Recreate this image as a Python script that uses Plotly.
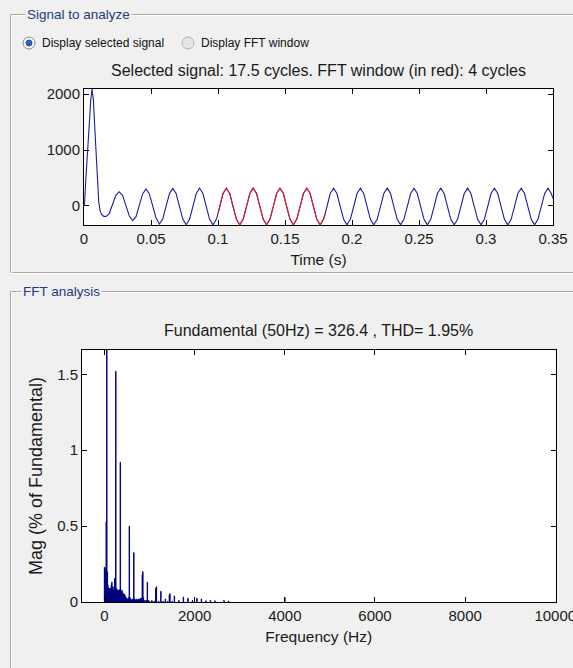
import plotly.graph_objects as go

W, H = 573, 668
BG = "#f0f0f0"


def px(x):
    return x / W


def py(y):
    return 1 - y / H


# ---------------- Signal to analyze (time domain) ----------------
time_s = [
    0.0, 0.0005, 0.001, 0.002, 0.003, 0.004, 0.005, 0.006,
    0.007, 0.008, 0.009, 0.010, 0.011, 0.012, 0.013, 0.0145,
    0.01625, 0.01875, 0.02125, 0.02375, 0.02625, 0.02875, 0.03125, 0.03375,
    0.03625, 0.03875, 0.04125, 0.04375, 0.04625, 0.04875, 0.05125, 0.05375,
    0.05625, 0.05875, 0.06125, 0.06375, 0.06625, 0.06875, 0.07125, 0.07375,
    0.07625, 0.07875, 0.08125, 0.08375, 0.08625, 0.08875, 0.09125, 0.09375,
    0.09625, 0.09875, 0.1, 0.10125, 0.10375, 0.10625, 0.10875, 0.11125, 0.11375,
    0.11625, 0.11875, 0.12125, 0.12375, 0.12625, 0.12875, 0.13125, 0.13375,
    0.13625, 0.13875, 0.14125, 0.14375, 0.14625, 0.14875, 0.15125, 0.15375,
    0.15625, 0.15875, 0.16125, 0.16375, 0.16625, 0.16875, 0.17125, 0.17375,
    0.17625, 0.17875, 0.18, 0.18125, 0.18375, 0.18625, 0.18875, 0.19125, 0.19375,
    0.19625, 0.19875, 0.20125, 0.20375, 0.20625, 0.20875, 0.21125, 0.21375,
    0.21625, 0.21875, 0.22125, 0.22375, 0.22625, 0.22875, 0.23125, 0.23375,
    0.23625, 0.23875, 0.24125, 0.24375, 0.24625, 0.24875, 0.25125, 0.25375,
    0.25625, 0.25875, 0.26125, 0.26375, 0.26625, 0.26875, 0.27125, 0.27375,
    0.27625, 0.27875, 0.28125, 0.28375, 0.28625, 0.28875, 0.29125, 0.29375,
    0.29625, 0.29875, 0.30125, 0.30375, 0.30625, 0.30875, 0.31125, 0.31375,
    0.31625, 0.31875, 0.32125, 0.32375, 0.32625, 0.32875, 0.33125, 0.33375,
    0.33625, 0.33875, 0.34125, 0.34375, 0.34625, 0.34875, 0.35,
]
signal_v = [
    0, 80, 330, 750, 1150, 1530, 1880, 2090,
    1900, 1420, 900, 420, 70, -80, -145, -182,
    -190, -140, 25, 190, 255, 190, 10, -175,
    -262, -195, 10, 215, 303, 215, 0, -215,
    -322, -232, -8, 220, 315, 222, -10, -235,
    -335, -238, -10, 222, 318, 222, -10, -238,
    -338, -240, -135, -10, 222, 318, 222, -10, -240,
    -338, -240, -10, 222, 319, 222, -10, -240,
    -337, -240, -10, 222, 318, 222, -10, -240,
    -338, -240, -10, 222, 318, 222, -10, -240,
    -338, -240, -135, -10, 222, 318, 222, -10, -240,
    -338, -240, -10, 222, 318, 222, -10, -240,
    -337, -240, -10, 222, 319, 222, -10, -240,
    -338, -240, -10, 222, 318, 222, -10, -240,
    -338, -240, -10, 222, 318, 222, -10, -240,
    -338, -240, -10, 222, 319, 222, -10, -240,
    -337, -240, -10, 222, 318, 222, -10, -240,
    -338, -240, -10, 222, 318, 222, -10, -240,
    -338, -240, -10, 222, 318, 222, 130,
]
assert len(time_s) == len(signal_v), (len(time_s), len(signal_v))

fft_window_start = 0.1
fft_window_end = 0.18
win_t = [t for t in time_s if fft_window_start <= t <= fft_window_end]
win_v = [v for t, v in zip(time_s, signal_v) if fft_window_start <= t <= fft_window_end]

time_ticks = [0, 0.05, 0.1, 0.15, 0.2, 0.25, 0.3, 0.35]
time_tick_text = ["0", "0.05", "0.1", "0.15", "0.2", "0.25", "0.3", "0.35"]
signal_ticks = [0, 1000, 2000]

# ---------------- FFT analysis (spectrum) ----------------
freq_hz = [
    0, 12.5, 25, 37.5, 50, 62.5, 75, 87.5, 100, 112.5,
    125, 137.5, 150, 162.5, 175, 187.5, 200, 212.5, 225, 237.5,
    250, 262.5, 275, 287.5, 300, 312.5, 325, 337.5, 350, 362.5,
    375, 387.5, 400, 412.5, 425, 437.5, 450, 462.5, 475, 487.5,
    500, 512.5, 525, 537.5, 550, 562.5, 575, 587.5, 600, 612.5,
    625, 637.5, 650, 662.5, 675, 687.5, 700, 712.5, 725, 737.5,
    750, 762.5, 775, 787.5, 800, 812.5, 825, 837.5, 850, 862.5,
    875, 900, 925, 950, 975, 1000, 1050, 1100, 1137.5, 1150,
    1200, 1250, 1300, 1350, 1400, 1437.5, 1450, 1500, 1550, 1650,
    1750, 1850, 1950, 2050, 2150, 2250, 2350, 2450, 2650, 2750,
    4000,
]
mag_pct = [
    0.23, 0.22, 0.20, 0.53, 100, 0.20, 0.11, 0.09, 0.08, 0.09,
    0.07, 0.09, 0.11, 0.13, 0.10, 0.08, 0.07, 0.10, 0.155, 0.10,
    1.52, 0.09, 0.08, 0.07, 0.08, 0.07, 0.08, 0.07, 0.92, 0.08,
    0.065, 0.075, 0.06, 0.055, 0.045, 0.05, 0.05, 0.035, 0.03, 0.025,
    0.02, 0.02, 0.02, 0.03, 0.50, 0.03, 0.02, 0.015, 0.01, 0.015,
    0.02, 0.02, 0.325, 0.02, 0.01, 0.01, 0.02, 0.01, 0.01, 0.015,
    0.02, 0.015, 0.015, 0.02, 0.025, 0.02, 0.025, 0.18, 0.20, 0.03,
    0.01, 0.01, 0.01, 0.13, 0.01, 0.005, 0.01, 0.005, 0.09, 0.10,
    0.005, 0.07, 0.005, 0.02, 0.005, 0.045, 0.055, 0.005, 0.04, 0.01,
    0.033, 0.025, 0.01, 0.025, 0.02, 0.008, 0.012, 0.008, 0.01, 0.006,
    0.03,
]
assert len(freq_hz) == len(mag_pct), (len(freq_hz), len(mag_pct))

freq_ticks = [0, 2000, 4000, 6000, 8000, 10000]
freq_tick_text = ["0", "2000", "4000", "6000", "8000", "10000"]
mag_ticks = [0, 0.5, 1, 1.5]
mag_tick_text = ["0", "0.5", "1", "1.5"]

title_signal = "Selected signal: 17.5 cycles. FFT window (in red): 4 cycles"
title_fft = "Fundamental (50Hz) = 326.4 , THD= 1.95%"

FONT = "Liberation Sans"
TICK_FONT = dict(family=FONT, size=15, color="#1a1a1a")
LABEL_FONT = dict(family=FONT, size=15.5, color="#1a1a1a")
YLABEL_FONT = dict(family=FONT, size=18, color="#1a1a1a")
TITLE_FONT = dict(family=FONT, size=16, color="#1a1a1a")

fig = go.Figure()
fig.add_trace(go.Scatter(x=time_s, y=signal_v, mode="lines",
                         line=dict(color="#1c1ca0", width=1.1),
                         xaxis="x", yaxis="y", showlegend=False))
fig.add_trace(go.Scatter(x=win_t, y=win_v, mode="lines",
                         line=dict(color="#e02222", width=1.1),
                         xaxis="x", yaxis="y", showlegend=False))
fig.add_trace(go.Bar(x=freq_hz, y=mag_pct, width=10,
                     marker=dict(color="#000080", line=dict(color="#000080", width=0.9)),
                     xaxis="x2", yaxis="y2", showlegend=False))

axis_common = dict(showline=True, linecolor="black", linewidth=1, mirror="ticks",
                   ticks="inside", ticklen=5, tickcolor="black", tickwidth=1,
                   showgrid=False, zeroline=False, tickfont=TICK_FONT, automargin=False,
                   ticklabeloverflow="allow")

fig.update_layout(
    width=W, height=H,
    margin=dict(l=0, r=0, t=0, b=0, pad=0, autoexpand=False),
    paper_bgcolor=BG, plot_bgcolor="white",
    showlegend=False,
    xaxis=dict(domain=[px(84), px(553)], range=[0, 0.35], tickmode="array",
               tickvals=time_ticks, ticktext=time_tick_text,
               title=dict(text="Time (s)", font=LABEL_FONT, standoff=8),
               anchor="y", **axis_common),
    yaxis=dict(domain=[py(225), py(89)], range=[-340, 2090], tickmode="array",
               tickvals=signal_ticks, ticktext=[str(v) for v in signal_ticks],
               anchor="x", **axis_common),
    xaxis2=dict(domain=[px(82), px(555.5)], range=[-500, 10005], tickmode="array",
                tickvals=freq_ticks, ticktext=freq_tick_text,
                title=dict(text="Frequency (Hz)", font=LABEL_FONT, standoff=8),
                anchor="y2", **axis_common),
    yaxis2=dict(domain=[py(602), py(350)], range=[0, 1.66], tickmode="array",
                tickvals=mag_ticks, ticktext=mag_tick_text,
                title=dict(text="Mag (% of Fundamental)", font=YLABEL_FONT, standoff=9),
                anchor="x2", **axis_common),
)

shapes = []


def rect(x0, y0, x1, y1, color):
    return dict(type="rect", xref="paper", yref="paper",
                x0=px(x0), x1=px(x1), y0=py(y1), y1=py(y0),
                line=dict(color=color, width=1), fillcolor="rgba(0,0,0,0)", layer="below")


# group boxes (etched look: grey line + white highlight)
shapes.append(rect(10.5, 14.5, 600, 272.5, "#a8a8a8"))
shapes.append(rect(11.5, 15.5, 600, 273.5, "#ffffff"))
shapes.append(rect(10.5, 291.5, 600, 700, "#a8a8a8"))
shapes.append(rect(11.5, 292.5, 600, 700, "#ffffff"))


def circle(cx, cy, r, fill, line_color):
    return dict(type="circle", xref="paper", yref="paper",
                x0=px(cx - r), x1=px(cx + r), y0=py(cy + r), y1=py(cy - r),
                fillcolor=fill, line=dict(color=line_color, width=1), layer="above")


# radio buttons
shapes.append(circle(29, 43, 6, "#f6f6f6", "#8a8a8a"))
shapes.append(circle(29, 43, 3, "#2b63c4", "#1f4f9f"))
shapes.append(circle(188, 43, 6, "#e6e6e6", "#b0b0b0"))

fig.update_layout(shapes=shapes)

GROUP_FONT = dict(family=FONT, size=13.5, color="#1e3a7a")
UI_FONT = dict(family=FONT, size=12, color="#111111")

annotations = [
    dict(text="Signal to analyze", x=px(25), y=py(14.5), xanchor="left", yanchor="middle",
         showarrow=False, font=GROUP_FONT, bgcolor=BG, borderpad=1),
    dict(text="FFT analysis", x=px(21), y=py(291.5), xanchor="left", yanchor="middle",
         showarrow=False, font=GROUP_FONT, bgcolor=BG, borderpad=1),
    dict(text="Display selected signal", x=px(40), y=py(43), xanchor="left", yanchor="middle",
         showarrow=False, font=UI_FONT),
    dict(text="Display FFT window", x=px(199), y=py(43), xanchor="left", yanchor="middle",
         showarrow=False, font=UI_FONT),
    dict(text=title_signal, x=px(318.5), y=py(71), xanchor="center", yanchor="middle",
         showarrow=False, font=TITLE_FONT),
    dict(text=title_fft, x=px(318.7), y=py(330), xanchor="center", yanchor="middle",
         showarrow=False, font=TITLE_FONT),
]
for a in annotations:
    a["xref"] = "paper"
    a["yref"] = "paper"
fig.update_layout(annotations=annotations)

fig.write_html(
    "out.html",
    config={"displayModeBar": False},
    post_script="document.body.style.margin='0';document.body.style.padding='0';"
                "document.body.style.overflow='hidden';",
)
